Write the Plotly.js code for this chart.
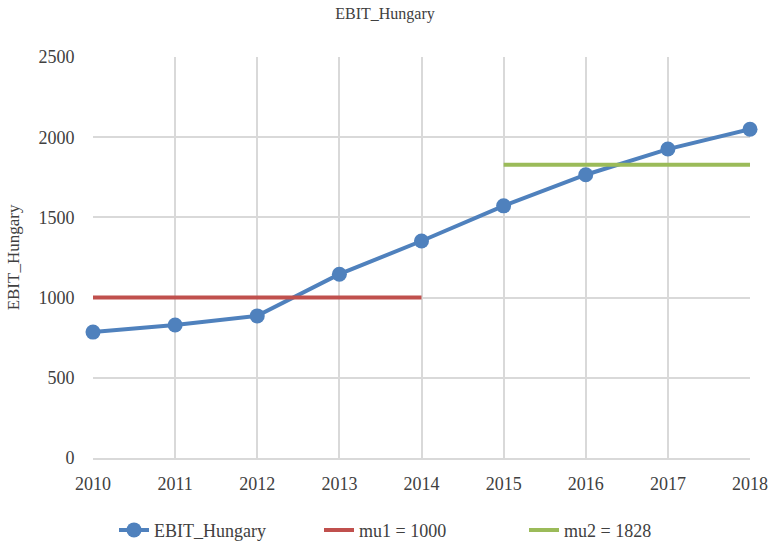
<!DOCTYPE html>
<html><head><meta charset="utf-8">
<script src="https://cdn.plot.ly/plotly-3.0.1.min.js"></script>
<style>body{margin:0;background:#fff}#c{width:770px;height:546px}</style>
</head><body><div id="c"></div>
<script>
const years = [2010, 2011, 2012, 2013, 2014, 2015, 2016, 2017, 2018];
const ebit = [785, 829, 886, 1146, 1353, 1572, 1766, 1926, 2050];
const mu1Years = [2010, 2014];
const mu1Vals = [1000, 1000];
const mu2Years = [2015, 2018];
const mu2Vals = [1828, 1828];

const FAM = 'Liberation Serif';
const f = (s) => ({family: FAM, size: s, color: '#404040'});

const traces = [
  {x: years, y: ebit, name: 'EBIT_Hungary', mode: 'lines+markers', cliponaxis: false,
   line: {color: '#4F81BD', width: 4}, marker: {color: '#4F81BD', size: 15}},
  {x: mu1Years, y: mu1Vals, name: 'mu1 = 1000', mode: 'lines', cliponaxis: false,
   line: {color: '#C0504D', width: 4}},
  {x: mu2Years, y: mu2Vals, name: 'mu2 = 1828', mode: 'lines', cliponaxis: false,
   line: {color: '#9BBB59', width: 4}}
];
const layout = {
  width: 770, height: 546,
  margin: {l: 93, r: 20, t: 57, b: 88, autoexpand: false},
  paper_bgcolor: '#fff', plot_bgcolor: '#fff',
  font: f(17),
  title: {text: 'EBIT_Hungary', x: 0.5, xanchor: 'center', y: 0.985, yanchor: 'top',
          font: f(16)},
  xaxis: {range: [2010, 2018], tickvals: years, ticktext: years.map(String),
          showgrid: true, gridcolor: '#d9d9d9', gridwidth: 1.5, zeroline: false,
          showline: true, linecolor: '#d9d9d9', linewidth: 1.5,
          ticks: 'outside', ticklen: 9, tickcolor: 'rgba(0,0,0,0)',
          tickfont: f(18), automargin: false},
  yaxis: {range: [0, 2500], dtick: 500, showgrid: true, gridcolor: '#d9d9d9', gridwidth: 1.5,
          zeroline: false, showline: false, ticks: 'outside', ticklen: 14, tickcolor: 'rgba(0,0,0,0)',
          tickfont: f(18), automargin: false,
          title: {text: 'EBIT_Hungary', font: f(17), standoff: 14}},
  showlegend: true,
  legend: {orientation: 'h', x: 0.5, xanchor: 'center', y: -0.18, yanchor: 'middle',
           font: f(18), entrywidth: 160, entrywidthmode: 'pixels', traceorder: 'normal'}
};
Plotly.newPlot('c', traces, layout, {displayModeBar: false});
</script></body></html>
